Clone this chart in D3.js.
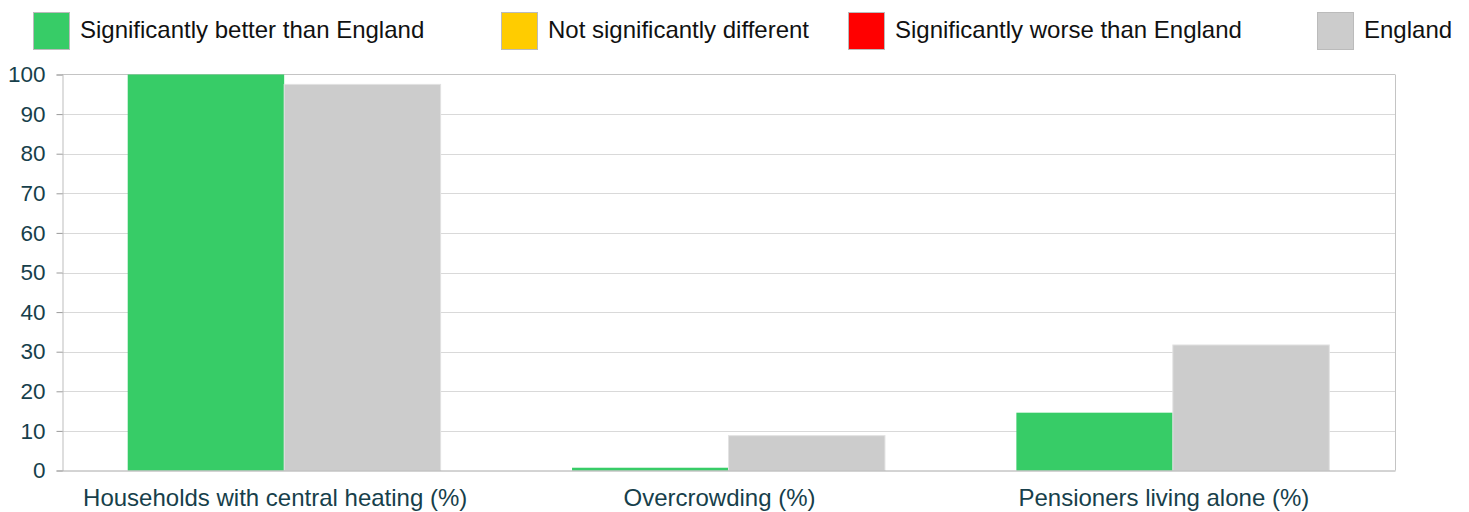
<!DOCTYPE html>
<html>
<head>
<meta charset="utf-8">
<script src="https://cdn.jsdelivr.net/npm/d3@7"></script>
<style>
    body { margin: 0; background: #fff; }
    svg text { font-family: "Liberation Sans", Arial, sans-serif; }
</style>
</head>
<body>
<svg id="chart" width="1469" height="512"></svg>
<script>
// indicator values, area vs England
var categories = ["Households with central heating (%)", "Overcrowding (%)", "Pensioners living alone (%)"];
var areaValues = [100, 0.7, 14.6];
var englandValues = [97.5, 8.8, 31.7];
var areaStatus = ["better", "better", "better"];
var yTicks = [0, 10, 20, 30, 40, 50, 60, 70, 80, 90, 100];

var legendLabels = ["Significantly better than England", "Not significantly different", "Significantly worse than England", "England"];
var legendKeys = ["better", "similar", "worse", "england"];

var colours = {
    better: "#37cc67",
    similar: "#ffcc00",
    worse: "#ff0000",
    england: "#cccccc"
};

var svg = d3.select("#chart");

// plot box (not "top" - window.top is taken)
var plotL = 62, plotR = 1395, plotT = 74.5, plotB = 470.5;

var x0 = d3.scaleBand().domain(categories).range([plotL, plotR]);
var x1 = d3.scaleBand().domain(["area", "england"]).range([0, x0.bandwidth()]).paddingOuter(0.42);
var y = d3.scaleLinear().domain([0, 100]).range([plotB, plotT]);

// gridlines
svg.append("g").selectAll("line")
    .data(yTicks.filter(function(d) { return d > 0 && d < 100; }))
    .enter().append("line")
    .attr("x1", plotL).attr("x2", plotR)
    .attr("y1", function(d) { return Math.round(y(d)) + 0.5; })
    .attr("y2", function(d) { return Math.round(y(d)) + 0.5; })
    .attr("stroke", "#d9d9d9").attr("stroke-width", 1);

// plot frame
svg.append("line").attr("x1", plotL).attr("x2", plotR).attr("y1", plotT).attr("y2", plotT)
    .attr("stroke", "#c4c4c4");
svg.append("line").attr("x1", plotR + 0.5).attr("x2", plotR + 0.5).attr("y1", plotT).attr("y2", plotB)
    .attr("stroke", "#c4c4c4");

// bars
var rows = categories.map(function(c, i) {
    return [
        {cat: c, key: "area", value: areaValues[i], fill: colours[areaStatus[i]]},
        {cat: c, key: "england", value: englandValues[i], fill: colours.england}
    ];
});

var groups = svg.append("g").selectAll("g")
    .data(rows)
    .enter().append("g")
    .attr("transform", function(d) { return "translate(" + x0(d[0].cat) + ",0)"; });

groups.selectAll("rect")
    .data(function(d) { return d; })
    .enter().append("rect")
    .attr("x", function(d) { return x1(d.key); })
    .attr("width", x1.bandwidth())
    .attr("y", function(d) { return y(d.value); })
    .attr("height", function(d) { return plotB - y(d.value); })
    .attr("fill", function(d) { return d.fill; })
    .attr("stroke", function(d) { return d.key == "england" ? "#e2e2e2" : "none"; })
    .attr("stroke-width", 1);

// y axis
var yAxis = svg.append("g")
    .attr("transform", "translate(" + (plotL + 0.5) + ",0)")
    .call(d3.axisLeft(y).tickValues(yTicks).tickSize(6).tickPadding(11));
yAxis.select(".domain").attr("stroke", "#bdbdbd");
yAxis.selectAll(".tick line").attr("stroke", "#9a9a9a");
yAxis.selectAll(".tick text")
    .attr("fill", "#173f4b")
    .style("font-size", "22.5px");

// x axis
var xAxis = svg.append("g")
    .attr("transform", "translate(0," + plotB + ")")
    .call(d3.axisBottom(x0).tickSize(0).tickPadding(18));
xAxis.select(".domain").attr("stroke", "#a8a8a8");
xAxis.selectAll(".tick text")
    .attr("fill", "#173f4b")
    .attr("dx", -9)
    .style("font-size", "24px");

// legend
var legendX = [33, 501, 848, 1317];
var legend = svg.append("g").selectAll("g")
    .data(legendKeys)
    .enter().append("g")
    .attr("transform", function(d, i) { return "translate(" + legendX[i] + ",12)"; });

legend.append("rect")
    .attr("x", 0.5).attr("y", 0.5)
    .attr("width", 36).attr("height", 37)
    .attr("fill", function(d) { return colours[d]; })
    .attr("stroke", "#bbbbbb");

legend.append("text")
    .attr("x", 47)
    .attr("y", 26)
    .attr("fill", "#111")
    .style("font-size", "24px")
    .text(function(d, i) { return legendLabels[i]; });
</script>
</body>
</html>
